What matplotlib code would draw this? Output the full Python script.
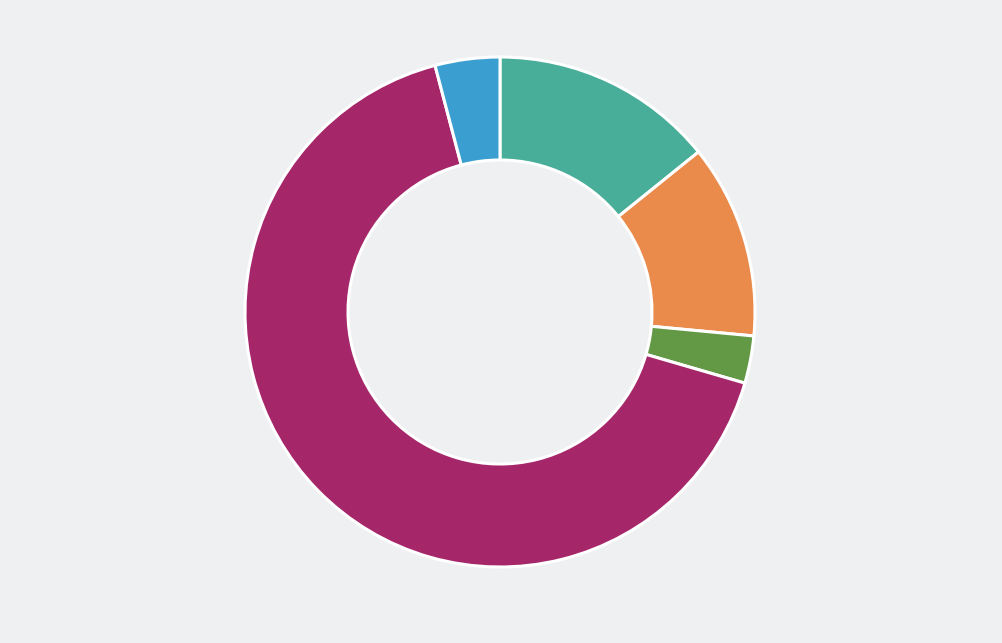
import matplotlib
matplotlib.use("Agg")
import matplotlib.pyplot as plt

labels = ["Teal", "Orange", "Green", "Magenta", "Blue"]
values = [14.2, 12.3, 3.0, 66.4, 4.1]
colors = ["#48AE99", "#EA8B4C", "#639845", "#A6266A", "#3A9FD0"]

bg = "#EFF0F2"
fig = plt.figure(figsize=(10.02, 6.43), dpi=100, facecolor=bg)
ax = fig.add_axes([0, 0, 1, 1])
ax.set_facecolor(bg)
ax.pie(values, colors=colors, startangle=90, counterclock=False,
       center=(500, 331), radius=255,
       wedgeprops=dict(width=103, edgecolor="white", linewidth=2.2))
ax.set_xlim(0, 1002)
ax.set_ylim(0, 643)
ax.set_aspect("equal")
ax.axis("off")
fig.savefig("out.png", dpi=100, facecolor=bg)
